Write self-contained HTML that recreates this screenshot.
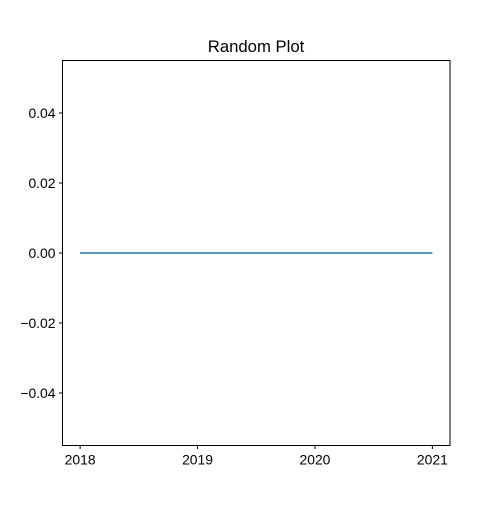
<!DOCTYPE html>
<html><head><meta charset="utf-8"><style>
body{margin:0;background:#fff;}
svg text{font-family:"Liberation Sans","DejaVu Sans",sans-serif;}
</style></head><body>
<svg id="chart" width="500" height="500" xmlns="http://www.w3.org/2000/svg">
<rect width="500" height="500" fill="#fff"/>
<text x="256" y="52" font-size="16.7" text-anchor="middle">Random Plot</text>
<g id="ticks"></g>
<path id="line" fill="none" stroke="#1f77b4" stroke-width="1.5"/>
<rect x="62.5" y="60.5" width="387.5" height="385" fill="none" stroke="#000" stroke-width="1"/>
</svg>
<script>
const xValues=[2018,2019,2020,2021];
const yValues=[0,0,0,0];
const xTicks=[2018,2019,2020,2021];
const yTicks=[-0.04,-0.02,0,0.02,0.04];
const L=62.5,R=450,T=60.5,B=445.5;
const xmin=2018-0.15,xmax=2021+0.15,ymin=-0.055,ymax=0.055;
const sx=v=>L+(v-xmin)/(xmax-xmin)*(R-L);
const sy=v=>B-(v-ymin)/(ymax-ymin)*(B-T);
const ns="http://www.w3.org/2000/svg";
const g=document.getElementById('ticks');
function mk(t,a){const e=document.createElementNS(ns,t);for(const k in a)e.setAttribute(k,a[k]);g.appendChild(e);return e;}
xTicks.forEach(v=>{const x=sx(v);
const l=mk('line',{x1:x,x2:x,y1:B,y2:B+3.5,stroke:'#000'});


const t=mk('text',{x:x,y:B+19,'font-size':13.9,'text-anchor':'middle'});t.textContent=v;

});
yTicks.forEach(v=>{const y=sy(v);
const l=mk('line',{x1:L-3.5,x2:L,y1:y,y2:y,stroke:'#000'});


const t=mk('text',{x:L-7,y:y+5,'font-size':13.9,'text-anchor':'end'});t.textContent=(v<0?'\u2212':'')+Math.abs(v).toFixed(2);

});
document.getElementById('line').setAttribute('d',xValues.map((v,i)=>(i?'L':'M')+sx(v)+','+sy(yValues[i])).join(''));
</script>
</body></html>
